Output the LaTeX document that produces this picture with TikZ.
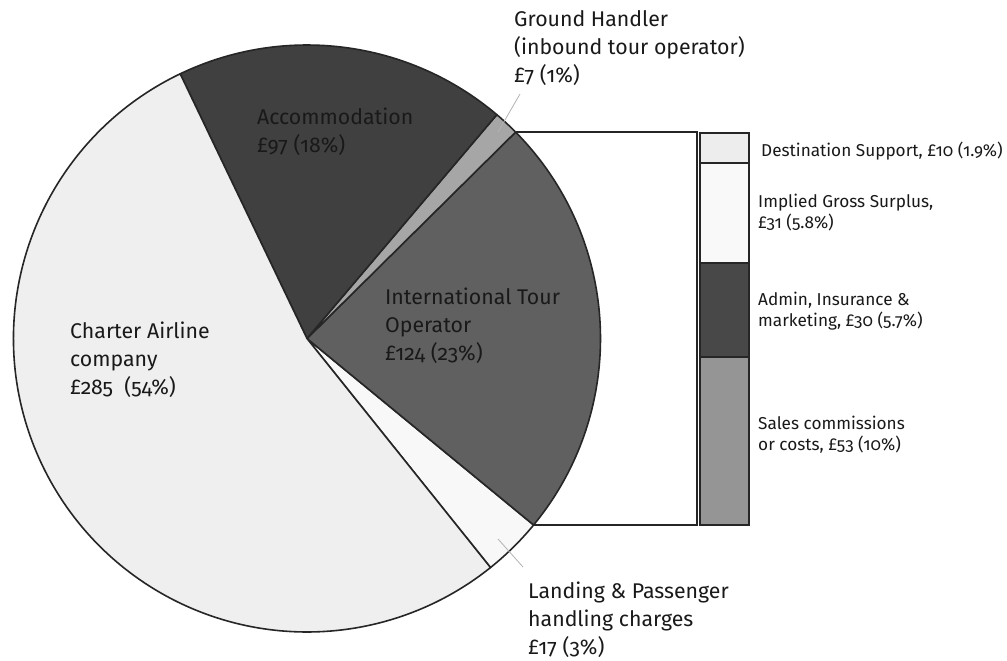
\documentclass[tikz,border=0pt]{standalone}
\usepackage{fontspec}
\setmainfont{Fira Sans}[Numbers=OldStyle]
\usepackage{xcolor}

\definecolor{charter}{HTML}{EFEFEF}
\definecolor{landing}{HTML}{F8F8F8}
\definecolor{tour}{HTML}{606060}
\definecolor{ground}{HTML}{A6A6A6}
\definecolor{accom}{HTML}{404040}
\definecolor{destsup}{HTML}{EDEDED}
\definecolor{surplus}{HTML}{F9F9F9}
\definecolor{admin}{HTML}{484848}
\definecolor{sales}{HTML}{959595}

\begin{document}
\begin{tikzpicture}[x=1pt, y=-1pt,
    bigtext/.style={anchor=west, align=left, inner sep=0pt, text=black!90, font=\fontsize{21.3}{28}\selectfont},
    smalltext/.style={anchor=west, align=left, inner sep=0pt, text=black!90, font=\fontsize{17.2}{21}\selectfont},
    leader/.style={gray!60, line width=0.8pt},
    edge/.style={draw=black!85, line width=1.6pt, line join=round},
    thinedge/.style={draw=black!85, line width=1.3pt}]
    \useasboundingbox (0,0) rectangle (1007,661);

    \begin{scope}[shift={(307,338.5)}, yscale=-1]
        \foreach \a/\b/\c in {-51.3/-39.45/landing, -39.45/44.7/tour, 44.7/49.7/ground, 49.7/115.6/accom, 115.6/308.7/charter}
            \filldraw[edge, fill=\c] (0,0) -- (\a:293.5) arc[start angle=\a, end angle=\b, radius=293.5] -- cycle;
        \coordinate (top) at (44.7:293.5);
        \coordinate (bot) at (-39.45:293.5);
    \end{scope}

    \coordinate (brk) at (697,0);
    \draw[thinedge] (top) -- (top -| brk) -- (bot -| brk) -- (bot);

    \foreach \t/\b/\c in {133/163/destsup, 163/263/surplus, 263/357/admin, 357/525/sales}
        \filldraw[thinedge, fill=\c] (700,\t) rectangle (749,\b);

    \node[bigtext] (accomlabel) at (257,132) {Accommodation\\£97 (18\%)};
    \node[bigtext] (tourlabel) at (385,325.5) {International Tour\\Operator\\£124 (23\%)};
    \node[bigtext] (charterlabel) at (70,359.5) {Charter Airline\\company\\£285 ~(54\%)};
    \node[bigtext] (groundlabel) at (514,48.5) {Ground Handler\\(inbound tour operator)\\£7 (1\%)};
    \node[bigtext] (landinglabel) at (528,619.5) {Landing \& Passenger\\handling charges\\£17 (3\%)};

    \node[smalltext, anchor=base west] (destlabel) at (761,156) {Destination Support, £10 (1.9\%)};
    \node[smalltext] (surpluslabel) at (758,213) {Implied Gross Surplus,\\£31 (5.8\%)};
    \node[smalltext] (adminlabel) at (758,311.5) {Admin, Insurance \&\\marketing, £30 (5.7\%)};
    \node[smalltext] (saleslabel) at (758,435) {Sales commissions\\or costs, £53 (10\%)};

    \coordinate (ground-a) at (520,94);
    \coordinate (ground-b) at (498,132);
    \coordinate (landing-a) at (498,539);
    \coordinate (landing-b) at (523,567);
    \draw[leader] (ground-a) -- (ground-b);
    \draw[leader] (landing-a) -- (landing-b);
\end{tikzpicture}
\end{document}
